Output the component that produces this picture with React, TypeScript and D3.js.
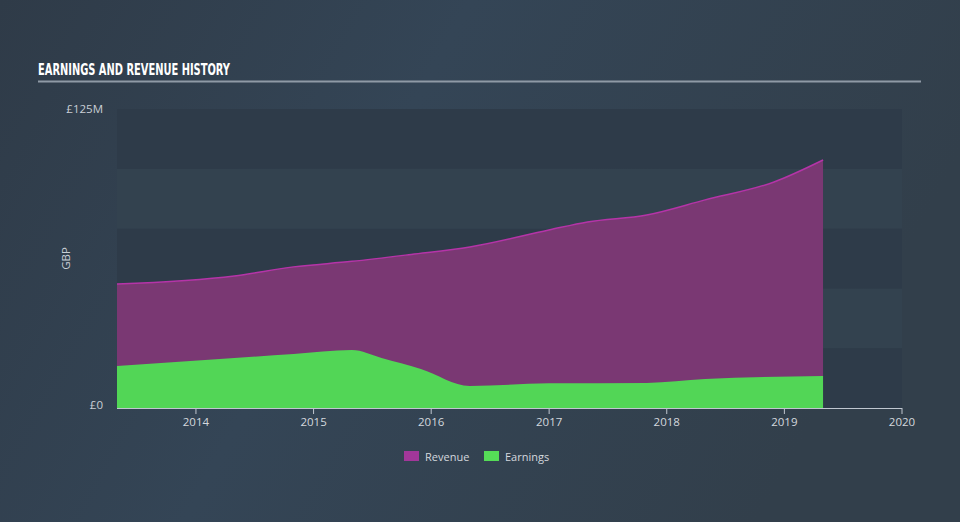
import React from 'react';
import * as d3 from 'd3';

const revenueDates = ['2013-05-01', '2014-04-30', '2014-10-31', '2015-04-30', '2015-10-31', '2016-04-30', '2016-12-31', '2017-04-30', '2017-10-31', '2018-04-30', '2018-11-30', '2019-05-01'];
const revenueValues = [51.8, 55.2, 59.0, 61.3, 64.2, 67.3, 74.4, 77.8, 80.7, 87.0, 94.5, 103.7];

const earningsDates = ['2013-05-01', '2014-04-30', '2014-10-31', '2015-04-30', '2015-07-31', '2015-11-30', '2016-04-30', '2016-12-31', '2017-10-31', '2018-04-30', '2019-05-01'];
const earningsValues = [17.6, 20.9, 22.6, 24.2, 20.9, 16.3, 9.2, 10.3, 10.5, 12.1, 13.4];

const yTicks = [0, 125];
const yTickLabels = ['£0', '£125M'];
const bandEdges = [0, 25, 50, 75, 100, 125];
const xYears = [2014, 2015, 2016, 2017, 2018, 2019, 2020];

const legendItems = [
  { label: 'Revenue', color: '#a2379a' },
  { label: 'Earnings', color: '#55dc57' },
];

const width = 960;
const height = 522;
const margin = { top: 109, right: 58, bottom: 114, left: 117 };

const App = () => {
  const parse = d3.utcParse('%Y-%m-%d');

  const x = d3.scaleUtc()
    .domain([parse('2013-05-01') as Date, parse('2020-01-01') as Date])
    .range([margin.left, width - margin.right]);

  const y = d3.scaleLinear()
    .domain([0, 125])
    .range([height - margin.bottom, margin.top]);

  const revenue = revenueDates.map((d, i) => ({ date: parse(d) as Date, value: revenueValues[i] }));
  const earnings = earningsDates.map((d, i) => ({ date: parse(d) as Date, value: earningsValues[i] }));

  const area = d3.area<any>()
    .x(d => x(d.date))
    .y0(y(0))
    .y1(d => y(d.value))
    .curve(d3.curveMonotoneX);

  const line = d3.line<any>()
    .x(d => x(d.date))
    .y(d => y(d.value))
    .curve(d3.curveMonotoneX);

  const font = "'Open Sans', sans-serif";
  const [x0, x1] = x.range();

  return (
    <svg width={width} height={height} style={{ position: 'absolute', left: 0, top: 0 }}>
      <defs>
        <linearGradient id="bg" x1="0" y1="0" x2="1" y2="0.3">
          <stop offset="0" stopColor="#2f3b48" />
          <stop offset="0.45" stopColor="#344556" />
          <stop offset="1" stopColor="#323f4b" />
        </linearGradient>
      </defs>
      <rect width={width} height={height} fill="url(#bg)" />

      <text x={38} y={75} fill="#ffffff" fontFamily="'DejaVu Sans Condensed', sans-serif"
        fontWeight="bold" fontSize={15} textLength={192} lengthAdjust="spacingAndGlyphs">
        EARNINGS AND REVENUE HISTORY
      </text>
      <line x1={38} x2={921} y1={81.5} y2={81.5} stroke="#8f9aa6" strokeWidth={2} />

      <g>
        {bandEdges.slice(0, -1).map((v, i) => (
          <rect key={v} x={x0} width={x1 - x0}
            y={y(bandEdges[i + 1])} height={y(v) - y(bandEdges[i + 1])}
            fill={i % 2 === 0 ? '#2e3b49' : '#33424f'} />
        ))}
      </g>

      <path d={area(revenue) as string} fill="#7a3873" />
      <path d={line(revenue) as string} fill="none" stroke="#b534a8" strokeWidth={1.5} />
      <path d={area(earnings) as string} fill="#52d656" />

      <g fontFamily={font} fontSize={11.5} fill="#c9ced5">
        {yTicks.map((t, i) => (
          <text key={t} x={103} y={y(t)} dy={t === 0 ? '0.1em' : '0.35em'} textAnchor="end">{yTickLabels[i]}</text>
        ))}
        <text transform={`translate(70, ${(y(0) + y(125)) / 2}) rotate(-90)`} textAnchor="middle">GBP</text>
      </g>

      <g>
        <line x1={x0} x2={x1} y1={y(0) + 0.5} y2={y(0) + 0.5} stroke="#c0c7d0" strokeWidth={1} />
        {xYears.map(yr => {
          const px = x(new Date(Date.UTC(yr, 0, 1)));
          return (
            <g key={yr} transform={`translate(${px}, ${y(0)})`}>
              <line y1={0} y2={6} stroke="#c0c7d0" />
              <text y={18} textAnchor="middle" fontFamily={font} fontSize={11.5} fill="#d4d8de">{yr}</text>
            </g>
          );
        })}
      </g>

      <g fontFamily={font} fontSize={11} fill="#d4d8de">
        {legendItems.map((item, i) => {
          const lx = 404 + i * 80;
          return (
            <g key={item.label} transform={`translate(${lx}, 451)`}>
              <rect width={15} height={10} fill={item.color} />
              <text x={21} y={9.5}>{item.label}</text>
            </g>
          );
        })}
      </g>
    </svg>
  );
};

export default App;
